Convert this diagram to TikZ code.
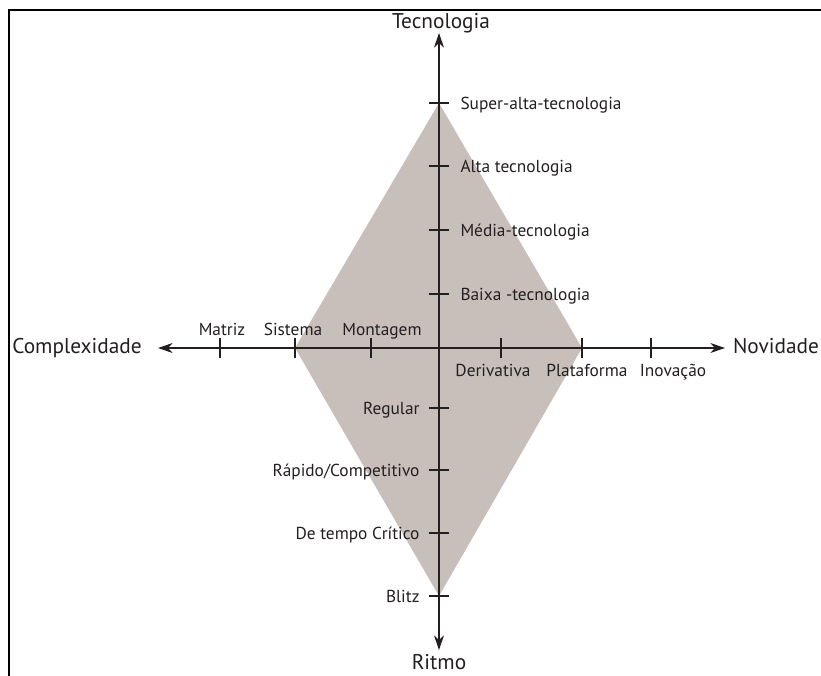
\documentclass[tikz,border=0pt]{standalone}
\usepackage{fontspec}
\setmainfont{PT Sans}
\usetikzlibrary{arrows.meta}
\definecolor{losango}{RGB}{201,191,186}
\definecolor{tinta}{RGB}{35,31,32}
\tikzset{every picture/.style={line width=0.75pt}}

\begin{document}
\begin{tikzpicture}[x=0.75pt,y=0.75pt,yscale=-1,xscale=1,
	eixo/.style={line width=1.1pt,tinta,-{Stealth[length=11pt,width=7.5pt]}},
	marca/.style={line width=2.2pt,tinta},
	rotulo/.style={inner sep=0pt,text=tinta,font=\fontsize{13}{15}\selectfont},
	titulo/.style={inner sep=0pt,text=tinta,font=\fontsize{16}{19}\selectfont}]
		\useasboundingbox (0,0) rectangle (821,675);
		
		%Frame
		\draw [line width=2.2pt]  (9,676) -- (9,10) -- (822,10) ;
		
		% Points of the diamond
		\coordinate (O) at (439,348);
		\coordinate (dTop) at (439,103);
		\coordinate (dRight) at (582,348);
		\coordinate (dBottom) at (439,596);
		\coordinate (dLeft) at (295,348);
		%Shape: Diamond
		\fill [losango]  (dTop) -- (dRight) -- (dBottom) -- (dLeft) -- cycle ;
		
		% Arrow ends
		\coordinate (tecTip) at (439,33);
		\coordinate (ritTip) at (439,650);
		\coordinate (comTip) at (158,348);
		\coordinate (novTip) at (725,348);
		%Axes
		\draw [eixo]  (O) -- (tecTip) ;
		\draw [eixo]  (O) -- (ritTip) ;
		\draw [eixo]  (O) -- (comTip) ;
		\draw [eixo]  (O) -- (novTip) ;
		
		%Ticks on the vertical axis, labels on the right
		\foreach \y/\nome/\texto in {103/superAlta/Super-alta-tecnologia, 166/alta/Alta tecnologia, 230/media/Média-tecnologia, 294/baixa/Baixa -tecnologia}{
			\draw [marca]  (429,\y) -- (449,\y) ;
			\node [rotulo,anchor=base west] (\nome) at (460,\y+6) {\texto};
		}
		%Ticks on the vertical axis, labels on the left
		\foreach \y/\nome/\texto in {408/regular/Regular, 470/rapido/{Rápido/Competitivo}, 533/critico/De tempo Crítico, 596/blitz/Blitz}{
			\draw [marca]  (429,\y) -- (449,\y) ;
			\node [rotulo,anchor=base east] (\nome) at (420,\y+6) {\texto};
		}
		%Ticks on the horizontal axis, labels above
		\foreach \x/\lx/\nome/\texto in {220/222/matriz/Matriz, 295/293/sistema/Sistema, 371/382/montagem/Montagem}{
			\draw [marca]  (\x,338) -- (\x,358) ;
			\node [rotulo,anchor=base] (\nome) at (\lx,335) {\texto};
		}
		%Ticks on the horizontal axis, labels below
		\foreach \x/\lx/\nome/\texto in {501/493/derivativa/Derivativa, 582/587/plataforma/Plataforma, 651/673/inovacao/Inovação}{
			\draw [marca]  (\x,338) -- (\x,358) ;
			\node [rotulo,anchor=base] (\nome) at (\lx,376) {\texto};
		}
		
		% Text Node
		\node [titulo,anchor=base] (tecnologia) at (441,28) {Tecnologia};
		% Text Node
		\node [titulo,anchor=base] (ritmo) at (439,669) {Ritmo};
		% Text Node
		\node [titulo,anchor=base] (complexidade) at (77,353) {Complexidade};
		% Text Node
		\node [titulo,anchor=base] (novidade) at (776,353) {Novidade};
		
\end{tikzpicture}
\end{document}
